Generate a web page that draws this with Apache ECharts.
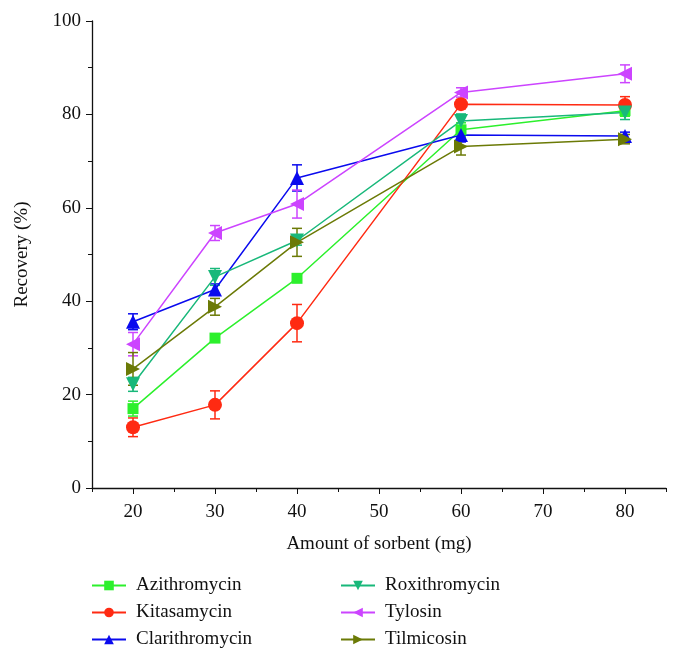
<!DOCTYPE html>
<html>
<head>
<meta charset="utf-8">
<script src="https://cdn.jsdelivr.net/npm/echarts@6/dist/echarts.min.js"></script>
<style>
  html, body { margin: 0; padding: 0; background: #fff; }
  #chart { width: 680px; height: 666px; }
</style>
</head>
<body>
<div id="chart"></div>
<script>
const xValues = [20, 30, 40, 60, 80];
const xLabels = [20, 30, 40, 50, 60, 70, 80];
const yLabels = [0, 20, 40, 60, 80, 100];

const azithromycin = [17.0, 32.1, 44.9, 76.7, 80.8];
const azithromycinErr = [1.6, 0.8, 0.8, 1.5, 1.2];
const kitasamycin = [13.0, 17.8, 35.3, 82.2, 82.0];
const kitasamycinErr = [2.0, 3.0, 4.0, 1.0, 1.8];
const clarithromycin = [35.6, 42.5, 66.4, 75.6, 75.4];
const clarithromycinErr = [1.7, 1.2, 2.8, 1.5, 0.8];
const roxithromycin = [22.2, 45.2, 53.0, 78.6, 80.4];
const roxithromycinErr = [1.5, 1.8, 1.0, 1.5, 1.5];
const tylosin = [30.8, 54.6, 60.8, 84.7, 88.7];
const tylosinErr = [2.5, 1.6, 3.0, 1.0, 1.9];
const tilmicosin = [25.5, 38.8, 52.6, 73.1, 74.7];
const tilmicosinErr = [3.5, 1.8, 3.0, 1.8, 1.0];

const seriesDefs = [
    { name: 'Azithromycin', data: azithromycin, err: azithromycinErr, color: '#2cf02c', symbol: 'rect', rotate: 0 },
    { name: 'Kitasamycin', data: kitasamycin, err: kitasamycinErr, color: '#ff2a12', symbol: 'circle', rotate: 0 },
    { name: 'Clarithromycin', data: clarithromycin, err: clarithromycinErr, color: '#0a0aee', symbol: 'triangle', rotate: 0 },
    { name: 'Roxithromycin', data: roxithromycin, err: roxithromycinErr, color: '#18b87a', symbol: 'triangle', rotate: 180 },
    { name: 'Tylosin', data: tylosin, err: tylosinErr, color: '#cc44ff', symbol: 'triangle', rotate: 90 },
    { name: 'Tilmicosin', data: tilmicosin, err: tilmicosinErr, color: '#6b7a06', symbol: 'triangle', rotate: -90 }
];

const font = 'Liberation Serif';

const errorBar = def => ({
    type: 'custom',
    name: def.name + ' err',
    z: 1,
    silent: true,
    data: xValues.map((x, i) => [x, def.data[i] - def.err[i], def.data[i] + def.err[i]]),
    renderItem: (params, api) => {
        const lo = api.coord([api.value(0), api.value(1)]);
        const hi = api.coord([api.value(0), api.value(2)]);
        const w = 5;
        const style = { stroke: def.color, lineWidth: 1.5 };
        return {
            type: 'group',
            children: [
                { type: 'line', shape: { x1: lo[0], y1: lo[1], x2: hi[0], y2: hi[1] }, style },
                { type: 'line', shape: { x1: lo[0] - w, y1: lo[1], x2: lo[0] + w, y2: lo[1] }, style },
                { type: 'line', shape: { x1: hi[0] - w, y1: hi[1], x2: hi[0] + w, y2: hi[1] }, style }
            ]
        };
    }
});

const lineSeries = def => ({
    type: 'line',
    name: def.name,
    z: 3,
    data: xValues.map((x, i) => [x, def.data[i]]),
    symbol: def.symbol,
    symbolRotate: def.rotate,
    symbolSize: def.symbol === 'rect' ? 11 : 14,
    color: def.color,
    lineStyle: { width: 1.5, color: def.color },
    itemStyle: { color: def.color },
    emphasis: { disabled: true }
});

const legendBase = {
    orient: 'vertical',
    top: 571,
    itemWidth: 34,
    itemHeight: 12,
    itemGap: 8,
    textStyle: { fontFamily: font, fontSize: 19, color: '#111', padding: [0, 0, 0, 5] },
    selectedMode: false
};

const chart = echarts.init(document.getElementById('chart'));
chart.setOption({
    animation: false,
    backgroundColor: '#fff',
    grid: { left: 92, right: 14, top: 21, bottom: 178 },
    legend: [
        Object.assign({}, legendBase, { left: 86, data: seriesDefs.slice(0, 3).map(d => d.name) }),
        Object.assign({}, legendBase, { left: 335, data: seriesDefs.slice(3).map(d => d.name) })
    ],
    xAxis: [{
        type: 'value',
        min: 15,
        max: 85,
        interval: 5,
        name: 'Amount of sorbent (mg)',
        nameLocation: 'middle',
        nameGap: 47,
        nameTextStyle: { fontFamily: font, fontSize: 19, color: '#111' },
        axisLine: { lineStyle: { color: '#111', width: 1.3 } },
        axisTick: { length: 4, lineStyle: { color: '#111' } },
        axisLabel: { customValues: xLabels, margin: 15, fontFamily: font, fontSize: 19, color: '#111' },
        splitLine: { show: false }
    }, {
        type: 'value',
        min: 15,
        max: 85,
        position: 'bottom',
        axisLine: { show: false },
        axisTick: { customValues: xLabels, length: 6, lineStyle: { color: '#111' } },
        axisLabel: { show: false },
        splitLine: { show: false }
    }],
    yAxis: [{
        type: 'value',
        min: 0,
        max: 100,
        interval: 10,
        name: 'Recovery (%)',
        nameLocation: 'middle',
        nameGap: 60,
        nameTextStyle: { fontFamily: font, fontSize: 19, color: '#111' },
        axisLine: { show: true, lineStyle: { color: '#111', width: 1.3 } },
        axisTick: { show: true, length: 4, lineStyle: { color: '#111' } },
        axisLabel: { customValues: yLabels, margin: 11, fontFamily: font, fontSize: 19, color: '#111' },
        splitLine: { show: false }
    }, {
        type: 'value',
        min: 0,
        max: 100,
        position: 'left',
        axisLine: { show: false },
        axisTick: { show: true, customValues: yLabels, length: 6, lineStyle: { color: '#111' } },
        axisLabel: { show: false },
        splitLine: { show: false }
    }],
    series: seriesDefs.map(errorBar).concat(seriesDefs.map(lineSeries))
});
</script>
</body>
</html>
